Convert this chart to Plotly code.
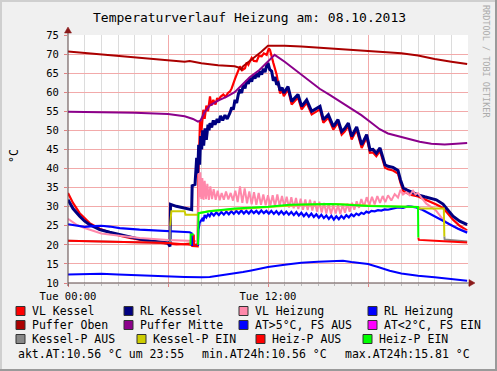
import plotly.graph_objects as go

# ---------------- data: (hour since Tue 00:00, °C) ----------------
VL_KESSEL = [(0, 33.6), (0.3, 31.0), (0.7, 28.3), (1.0, 27.0), (1.3, 25.7), (1.9, 24.2), (2.5, 23.2),
             (3.1, 22.4), (3.7, 21.8), (4.3, 21.3), (5.0, 20.8), (6.0, 20.3), (6.5, 20.1), (7.0, 20.2),
             (7.3, 20.3), (7.45, 19.7), (7.6, 19.6), (7.78, 19.6), (7.82, 38.0), (7.88, 47.0), (7.92, 52.4),
             (8.0, 49.5), (8.12, 55.4), (8.2, 53.0), (8.3, 56.5), (8.4, 55.0), (8.52, 58.9), (8.6, 56.5),
             (8.72, 58.0), (8.85, 56.8), (8.95, 58.5), (9.02, 57.8), (9.15, 58.8), (9.32, 59.4), (9.45, 58.8),
             (9.6, 59.8), (9.72, 60.2), (9.82, 61.0), (9.92, 62.0), (10.02, 63.5), (10.12, 64.6), (10.22, 65.5),
             (10.32, 66.8), (10.45, 65.8), (10.62, 66.3), (10.72, 67.8), (10.82, 67.2), (11.02, 69.0),
             (11.15, 68.2), (11.32, 68.1), (11.45, 69.5), (11.62, 69.4), (11.75, 70.2), (11.92, 69.8),
             (12.05, 71.5), (12.12, 71.1), (12.2, 70.0), (12.32, 67.7), (12.52, 64.6), (12.62, 61.5),
             (12.72, 59.7), (12.85, 60.4), (12.95, 59.0), (13.05, 59.7), (13.2, 60.7), (13.42, 56.8),
             (13.6, 57.8), (13.8, 58.6), (14.02, 55.5), (14.15, 56.2), (14.32, 57.2), (14.62, 54.2),
             (14.8, 54.7), (15.12, 55.5), (15.32, 52.0), (15.45, 52.5), (15.62, 53.3), (15.92, 50.2),
             (16.05, 51.0), (16.2, 52.0), (16.42, 48.9), (16.6, 49.7), (16.82, 51.1), (17.02, 47.6),
             (17.15, 48.7), (17.32, 50.1), (17.62, 45.4), (17.75, 46.7), (17.92, 48.1), (18.12, 44.1),
             (18.3, 44.2), (18.5, 43.2), (18.72, 44.6), (19.02, 40.2), (19.2, 39.8), (19.5, 39.5),
             (19.8, 38.7), (19.95, 36.2), (20.12, 34.1), (20.32, 33.6), (20.6, 33.1), (21.0, 32.7),
             (21.4, 32.0), (21.72, 31.3), (22.1, 30.6), (22.5, 29.7), (22.8, 28.0), (23.1, 26.6),
             (23.5, 25.0), (23.95, 23.8)]

RL_KESSEL = [(0, 31.8), (0.3, 29.5), (0.7, 27.5), (1.0, 26.2), (1.3, 25.3), (1.9, 24.0), (2.5, 23.3),
             (3.1, 22.7), (3.7, 22.0), (4.3, 21.5), (5.0, 21.0), (6.0, 20.5), (6.12, 19.6), (6.15, 30.6),
             (6.5, 30.1), (7.0, 29.6), (7.42, 29.2), (7.45, 35.5), (7.62, 35.8), (7.72, 42.8), (7.78, 38.5),
             (7.84, 46.2), (7.9, 41.0), (7.96, 48.5), (8.02, 45.0), (8.08, 50.0), (8.14, 46.0), (8.22, 50.5),
             (8.3, 47.5), (8.4, 51.5), (8.46, 50.0), (8.52, 51.9), (8.62, 50.8), (8.72, 52.6), (8.82, 51.5),
             (8.95, 53.0), (9.05, 52.0), (9.15, 53.8), (9.28, 52.6), (9.42, 54.0), (9.55, 53.0), (9.72, 54.6),
             (9.82, 56.0), (9.92, 55.5), (10.02, 58.0), (10.12, 57.2), (10.22, 59.5), (10.32, 60.7),
             (10.42, 59.8), (10.52, 62.0), (10.62, 61.0), (10.72, 63.0), (10.82, 62.2), (10.92, 63.7),
             (11.02, 62.8), (11.12, 64.5), (11.22, 63.6), (11.32, 65.0), (11.42, 64.0), (11.52, 65.5),
             (11.62, 64.6), (11.72, 66.2), (11.82, 65.3), (11.92, 67.0), (12.0, 67.7), (12.1, 66.0),
             (12.22, 65.5), (12.32, 63.0), (12.42, 64.0), (12.52, 62.0), (12.62, 62.4), (12.72, 60.5),
             (12.85, 61.2), (12.95, 59.8), (13.05, 60.5), (13.2, 61.5), (13.42, 57.6), (13.6, 58.6),
             (13.8, 59.4), (14.02, 56.3), (14.15, 57.0), (14.32, 58.0), (14.62, 55.0), (14.8, 55.5),
             (15.12, 56.3), (15.32, 52.8), (15.45, 53.3), (15.62, 54.1), (15.92, 51.0), (16.05, 51.8),
             (16.2, 52.8), (16.42, 49.7), (16.6, 50.5), (16.82, 51.9), (17.02, 48.4), (17.15, 49.5),
             (17.32, 50.9), (17.62, 46.2), (17.75, 47.5), (17.92, 48.9), (18.12, 44.9), (18.3, 45.0),
             (18.5, 44.0), (18.72, 45.4), (19.02, 41.0), (19.2, 40.6), (19.5, 40.3), (19.8, 39.5),
             (19.95, 37.0), (20.12, 34.9), (20.32, 34.4), (20.6, 33.9), (21.0, 33.1), (21.4, 32.6),
             (21.72, 32.3), (22.1, 31.8), (22.5, 30.7), (22.8, 29.0), (23.1, 27.5), (23.5, 26.2),
             (23.95, 25.3)]

VL_HEIZUNG = [(0, 26.8), (0.5, 25.3), (1.0, 24.4), (1.3, 24.0), (2.0, 23.0), (3.1, 22.4), (4.3, 21.8),
              (6.0, 21.3), (7.0, 21.2), (7.6, 21.0), (7.78, 20.8), (7.84, 38.8), (7.89, 32.5), (7.94, 39.0),
              (8.0, 32.0), (8.06, 37.5), (8.13, 31.8), (8.2, 36.8), (8.28, 32.0), (8.36, 36.0), (8.45, 31.8),
              (8.54, 35.3), (8.64, 32.0), (8.74, 34.6), (8.86, 31.8), (8.98, 34.2), (9.1, 31.7), (9.22, 33.6),
              (9.35, 31.8), (9.48, 34.0), (9.62, 31.9), (9.76, 33.6), (9.9, 31.6), (10.04, 34.2), (10.18, 31.2),
              (10.32, 35.3), (10.46, 31.0), (10.6, 34.8), (10.74, 30.9), (10.88, 34.0), (11.02, 30.6),
              (11.16, 33.8), (11.3, 30.5), (11.44, 33.6), (11.58, 30.5), (11.72, 33.2), (11.86, 30.4),
              (12.0, 33.0), (12.14, 30.3), (12.28, 33.0), (12.42, 30.1), (12.56, 33.2), (12.7, 30.2),
              (12.84, 32.8), (12.98, 30.0), (13.12, 32.6), (13.26, 29.8), (13.4, 32.5), (13.54, 29.6),
              (13.68, 32.3), (13.82, 29.4), (13.96, 32.1), (14.1, 29.2), (14.24, 31.9), (14.38, 29.1),
              (14.52, 31.8), (14.66, 29.0), (14.8, 31.5), (14.94, 28.7), (15.08, 31.3), (15.22, 28.5),
              (15.36, 31.0), (15.5, 28.2), (15.64, 30.8), (15.78, 28.1), (15.92, 30.5), (16.06, 28.2),
              (16.2, 30.4), (16.34, 28.1), (16.48, 30.5), (16.62, 28.4), (16.76, 30.8), (16.9, 28.7),
              (17.04, 31.0), (17.18, 29.2), (17.32, 31.4), (17.46, 29.7), (17.6, 32.0), (17.76, 30.0),
              (17.92, 32.5), (18.08, 30.4), (18.24, 32.6), (18.4, 30.6), (18.56, 32.8), (18.72, 31.0),
              (18.88, 32.8), (19.04, 31.2), (19.2, 33.0), (19.4, 31.6), (19.6, 33.3), (19.8, 32.4),
              (19.95, 34.4), (20.1, 33.2), (20.3, 33.8), (20.5, 33.0), (20.7, 34.2), (20.85, 33.2),
              (21.0, 33.6), (21.2, 32.4), (21.5, 30.8), (21.8, 29.9), (22.1, 28.9), (22.5, 26.6),
              (22.9, 25.3), (23.4, 24.3), (23.95, 23.5)]

RL_HEIZUNG = [(0, 25.4), (0.5, 25.0), (1.0, 24.7), (1.5, 24.9), (2.0, 25.0), (2.5, 24.8), (3.1, 24.4),
              (4.3, 24.0), (6.0, 23.5), (7.0, 23.2), (7.3, 23.3), (7.42, 23.0), (7.45, 20.0), (7.8, 20.0),
              (7.83, 24.0), (7.9, 25.8), (8.05, 26.8), (8.12, 26.2), (8.2, 27.8), (8.3, 27.2), (8.4, 28.0),
              (8.5, 27.5), (8.6, 28.4), (8.75, 27.7), (8.9, 28.5), (9.05, 27.8), (9.2, 28.6), (9.35, 27.9),
              (9.5, 28.7), (9.65, 28.0), (9.8, 28.8), (9.95, 28.1), (10.1, 28.9), (10.25, 28.2), (10.4, 29.0),
              (10.55, 28.2), (10.7, 28.9), (10.85, 28.2), (11.0, 29.0), (11.15, 28.3), (11.3, 28.9),
              (11.45, 28.2), (11.6, 29.0), (11.75, 28.3), (11.9, 28.9), (12.05, 28.2), (12.2, 28.9),
              (12.35, 28.1), (12.5, 28.8), (12.65, 28.0), (12.8, 28.8), (12.95, 28.0), (13.1, 28.7),
              (13.25, 27.9), (13.4, 28.6), (13.55, 27.8), (13.7, 28.6), (13.85, 27.7), (14.0, 28.4),
              (14.15, 27.5), (14.3, 28.3), (14.45, 27.4), (14.6, 28.2), (14.75, 27.3), (14.9, 28.0),
              (15.05, 27.1), (15.2, 27.9), (15.35, 27.0), (15.5, 27.7), (15.65, 26.8), (15.8, 27.6),
              (15.95, 26.6), (16.1, 27.5), (16.25, 26.7), (16.4, 27.6), (16.55, 26.9), (16.7, 27.8),
              (16.85, 27.2), (17.0, 28.0), (17.15, 27.5), (17.3, 28.2), (17.45, 27.8), (17.6, 28.4),
              (17.75, 28.1), (17.9, 28.7), (18.05, 28.4), (18.2, 28.9), (18.4, 28.8), (18.6, 29.1),
              (18.8, 29.0), (19.0, 29.3), (19.2, 29.2), (19.5, 29.5), (19.8, 29.8), (20.1, 29.7),
              (20.4, 30.1), (20.6, 30.0), (20.9, 29.8), (21.2, 29.3), (21.5, 28.6), (21.8, 28.0),
              (22.1, 27.3), (22.5, 26.3), (22.9, 25.3), (23.4, 24.2), (23.95, 23.2)]

PUFFER_OBEN = [(0, 70.7), (1, 70.3), (2, 70.0), (3, 69.6), (4, 69.2), (5, 68.8), (6, 68.3), (6.5, 68.1),
               (7.0, 68.0), (7.3, 68.2), (7.6, 67.9), (8.0, 67.6), (9.0, 67.1), (10.0, 66.8), (10.3, 66.4),
               (10.4, 65.9), (10.5, 66.8), (10.9, 68.1), (11.3, 69.6), (11.6, 70.6), (12.0, 72.2),
               (13.0, 72.2), (14.0, 72.0), (15.0, 71.7), (16.0, 71.4), (17.0, 71.1), (18.0, 70.7),
               (19.0, 70.5), (20.0, 70.2), (21.0, 69.6), (22.0, 68.7), (23.0, 68.0), (23.95, 67.4)]

PUFFER_MITTE = [(0, 54.9), (2, 54.8), (4, 54.6), (6, 54.3), (7, 53.7), (7.5, 53.0), (7.8, 52.3),
                (7.95, 52.6), (8.2, 54.8), (8.5, 56.5), (9.0, 57.8), (9.5, 58.8), (10.0, 60.0),
                (10.3, 61.3), (10.9, 63.9), (11.5, 65.9), (12.1, 68.5), (12.4, 69.8), (13.0, 68.0),
                (14.0, 64.6), (15.1, 60.9), (15.7, 59.3), (16.3, 57.6), (17.0, 55.8), (17.6, 54.0),
                (18.2, 52.0), (18.7, 50.3), (19.2, 49.2), (19.7, 48.6), (20.5, 47.8), (21.1, 47.0),
                (21.8, 46.5), (22.6, 46.3), (23.3, 46.5), (23.95, 46.7)]

AT_WARM = [(0, 12.2), (1, 12.3), (2, 12.4), (3, 12.2), (4, 12.0), (5, 11.9), (6, 11.7), (7, 11.6),
           (8, 11.5), (8.5, 11.6), (9.0, 11.9), (9.5, 12.2), (10, 12.5), (10.5, 12.9), (11, 13.3),
           (12, 14.2), (13, 14.8), (14, 15.3), (15, 15.6), (16, 15.8), (16.5, 15.8), (17, 15.5),
           (18, 15.0), (18.6, 14.2), (19.3, 13.2), (20, 12.5), (21, 11.9), (22, 11.5), (23, 11.1),
           (23.95, 10.6)]

AT_COLD = []  # outside temperature never below 2 °C

KESSEL_P_AUS = [(0, 21.1), (3, 20.8), (6.12, 20.5), (6.13, 25.0), None,
                (22.58, 22.2), (22.6, 21.4), (23.95, 20.9)]
KESSEL_P_EIN = [(6.13, 25.0), (6.2, 28.8), (7.0, 28.8), (7.05, 27.9), (7.8, 27.9), (7.85, 28.3),
                (8.5, 28.9), (12.0, 30.0), (14.0, 30.5), (16.0, 30.7), (18.5, 30.2), (21.0, 29.9),
                (21.1, 29.5), (22.55, 29.5), (22.58, 22.2)]
HEIZ_P_AUS = [(0, 21.1), (3, 20.8), (6, 20.5), (7.35, 20.0), None, (7.55, 22.7), (7.56, 20.0),
              (7.8, 20.0), None, (21.02, 21.9), (21.05, 21.3), (22, 21.1), (23, 20.9), (23.95, 20.6)]
HEIZ_P_EIN = [(7.35, 20.0), (7.36, 22.7), (7.55, 22.7), None, (7.8, 20.0), (7.83, 28.3), (8.5, 28.8),
              (9.3, 29.2), (10.0, 29.5), (12.0, 30.0), (13.3, 30.5), (15.7, 30.7), (16.5, 30.6),
              (18.0, 30.2), (19.9, 29.9), (21.0, 29.9), (21.02, 21.9)]

LEGEND_NAMES = ["VL Kessel", "RL Kessel", "VL Heizung", "RL Heizung",
                "Puffer Oben", "Puffer Mitte", "AT>5°C, FS AUS", "AT&lt;2°C, FS EIN",
                "Kessel-P AUS", "Kessel-P EIN", "Heiz-P AUS", "Heiz-P EIN"]
X_TICK_VALS = [0, 6, 12, 18]
X_TICK_TEXT = ["Tue 00:00", "", "Tue 12:00", ""]
TITLE = "Temperaturverlauf Heizung am: 08.10.2013"
FOOTER = ["akt.AT:10.56 °C um 23:55", "min.AT24h:10.56 °C", "max.AT24h:15.81 °C"]

# ---------------- styling ----------------
SERIES = [
    (VL_KESSEL, "#FF0000", 2.2),
    (RL_KESSEL, "#000080", 3.0),
    (VL_HEIZUNG, "#FF88AA", 2.0),
    (RL_HEIZUNG, "#0000FF", 2.2),
    (PUFFER_OBEN, "#AA0000", 2.0),
    (PUFFER_MITTE, "#8B008B", 2.0),
    (AT_WARM, "#0000FF", 2.0),
    (AT_COLD, "#FF00FF", 2.0),
    (KESSEL_P_AUS, "#888888", 2.0),
    (KESSEL_P_EIN, "#CCCC00", 2.0),
    (HEIZ_P_AUS, "#FF0000", 2.0),
    (HEIZ_P_EIN, "#00FF00", 2.0),
]
COLORS = [s[1] for s in SERIES]

W, H = 497, 371
L, R, T, B = 68, 29, 35, 88
PW, PH = W - L - R, H - T - B
FONT = "DejaVu Sans Mono"


def px(x):
    return (x - L) / PW


def py(y):
    return (H - B - y) / PH


def split(pairs):
    xs, ys = [], []
    for p in pairs:
        if p is None:
            xs.append(None)
            ys.append(None)
        else:
            xs.append(p[0])
            ys.append(p[1])
    return xs, ys


fig = go.Figure()
for pairs, col, w in SERIES:
    xs, ys = split(pairs)
    fig.add_trace(go.Scatter(x=xs, y=ys, mode="lines", line=dict(color=col, width=w),
                             connectgaps=False, showlegend=False, hoverinfo="skip"))

shapes = []
ann = []

# frame (3D border)
shapes += [
    dict(type="line", xref="paper", yref="paper", x0=px(0), x1=px(W), y0=py(1), y1=py(1),
         line=dict(color="#CFCFCF", width=2)),
    dict(type="line", xref="paper", yref="paper", x0=px(1), x1=px(1), y0=py(0), y1=py(H),
         line=dict(color="#CFCFCF", width=2)),
    dict(type="line", xref="paper", yref="paper", x0=px(0), x1=px(W), y0=py(H - 1), y1=py(H - 1),
         line=dict(color="#9A9A9A", width=2)),
    dict(type="line", xref="paper", yref="paper", x0=px(W - 1), x1=px(W - 1), y0=py(0), y1=py(H),
         line=dict(color="#9A9A9A", width=2)),
]

# axes with arrows
shapes += [
    dict(type="line", xref="paper", yref="paper", x0=px(L), x1=px(471), y0=py(H - B), y1=py(H - B),
         line=dict(color="#5A4545", width=1)),
    dict(type="line", xref="paper", yref="paper", x0=px(L), x1=px(L), y0=py(H - B + 3), y1=py(31),
         line=dict(color="#5A4545", width=1)),
    dict(type="path", xref="paper", yref="paper",
         path=f"M {px(469)} {py(H - B - 3.5)} L {px(475)} {py(H - B)} L {px(469)} {py(H - B + 3.5)} Z",
         fillcolor="#8B1A1A", line=dict(color="#8B1A1A", width=0.5)),
    dict(type="path", xref="paper", yref="paper",
         path=f"M {px(L - 3.5)} {py(33)} L {px(L)} {py(27)} L {px(L + 3.5)} {py(33)} Z",
         fillcolor="#8B1A1A", line=dict(color="#8B1A1A", width=0.5)),
]

# legend squares + text
row_y = [311, 325, 339]
col_x = [[16, 124, 239, 368], [16, 124, 239, 368], [16, 137, 256, 363]]
for i, name in enumerate(LEGEND_NAMES):
    r, c = divmod(i, 4)
    x0 = col_x[r][c]
    yc = row_y[r]
    shapes.append(dict(type="rect", xref="paper", yref="paper",
                       x0=px(x0), x1=px(x0 + 9), y0=py(yc + 4.5), y1=py(yc - 4.5),
                       fillcolor=COLORS[i], line=dict(color="#333333", width=1)))
    ann.append(dict(text=name, x=px(x0 + 14), y=py(yc), xref="paper", yref="paper",
                    xanchor="left", yanchor="middle", showarrow=False,
                    font=dict(family=FONT, size=11.5, color="#000000")))

for txt, xx in zip(FOOTER, [16, 200, 343]):
    ann.append(dict(text=txt, x=px(xx), y=py(353.5), xref="paper", yref="paper",
                    xanchor="left", yanchor="middle", showarrow=False,
                    font=dict(family=FONT, size=11.5, color="#000000")))

# title, unit label, watermark
ann.append(dict(text=TITLE, x=px(249), y=py(17), xref="paper", yref="paper",
                xanchor="center", yanchor="middle", showarrow=False,
                font=dict(family=FONT, size=13, color="#000000")))
ann.append(dict(text="°C", x=px(14), y=py(156), xref="paper", yref="paper", textangle=-90,
                xanchor="center", yanchor="middle", showarrow=False,
                font=dict(family=FONT, size=11.5, color="#000000")))
ann.append(dict(text="RRDTOOL / TOBI OETIKER", x=px(486), y=py(61), xref="paper", yref="paper",
                textangle=90, xanchor="center", yanchor="middle", showarrow=False,
                font=dict(family=FONT, size=8.5, color="#ABABAB")))

fig.update_layout(
    width=W, height=H,
    margin=dict(l=L, r=R, t=T, b=B, pad=0),
    paper_bgcolor="#F0F0F0", plot_bgcolor="#FFFFFF",
    shapes=shapes, annotations=ann, showlegend=False,
    xaxis=dict(range=[0, 24], tickmode="array", tickvals=X_TICK_VALS, ticktext=X_TICK_TEXT,
               showgrid=True, gridcolor="#F2AAAA", gridwidth=1, zeroline=False, showline=False,
               ticks="outside", ticklen=3, tickcolor="#E08080",
               tickfont=dict(family=FONT, size=10.5, color="#000000"),
               minor=dict(tickmode="linear", tick0=0, dtick=1, showgrid=True, gridcolor="#DCDCDC",
                          ticks="outside", ticklen=2, tickcolor="#BBBBBB")),
    yaxis=dict(range=[10, 75], tickmode="linear", tick0=10, dtick=5,
               showgrid=True, gridcolor="#F2AAAA", gridwidth=1, zeroline=False, showline=False,
               ticks="outside", ticklen=3, tickcolor="#E08080", ticklabelstandoff=3,
               tickfont=dict(family=FONT, size=10.5, color="#000000")),
)

fig.write_html(
    "out.html",
    config={"displayModeBar": False},
    post_script="document.body.style.margin='0';document.body.style.padding='0';"
                "document.documentElement.style.overflow='hidden';document.body.style.overflow='hidden';",
)
